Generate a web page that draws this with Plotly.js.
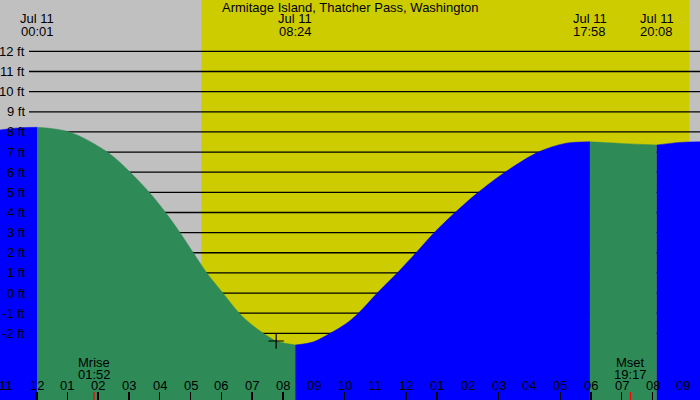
<!DOCTYPE html>
<html>
<head>
<meta charset="utf-8">
<script src="https://cdn.plot.ly/plotly-3.0.1.min.js"></script>
<style>html,body{margin:0;padding:0;background:#c0c0c0;}#chart{width:700px;height:400px;}</style>
</head>
<body>
<div id="chart"></div>
<script>
// ---- data (hours after midnight Jul 11, feet) ----
const chartTitle = "Armitage Island, Thatcher Pass, Washington";
const tideHours = [-1.185, -0.6, 1.065, 2.30, 3.04, 3.66, 4.19, 4.66, 5.09, 5.53, 6.05, 6.58, 6.93, 7.36, 7.78, 8.0, 9.0, 9.53, 10.02, 10.45, 11.06, 11.71, 12.32, 12.91, 13.59, 14.34, 15.21, 16.29, 17.16, 18.95, 20.9, 21.54];
const tideFeet  = [8.10, 8.20, 8.00, 7.00, 6.00, 5.00, 4.00, 3.00, 2.00, 1.00, 0.00, -1.00, -1.50, -2.00, -2.38, -2.47, -2.42, -2.00, -1.55, -1.00, 0.00, 1.00, 2.00, 3.00, 4.00, 5.00, 6.00, 7.00, 7.43, 7.43, 7.48, 7.51];
const extremeHours = [0.017, 8.4, 17.967, 20.133];
const extremeFeet  = [8.23, -2.58, 7.51, 7.35];
const extremeDates = ["Jul 11", "Jul 11", "Jul 11", "Jul 11"];
const extremeTimes = ["00:01", "08:24", "17:58", "20:08"];
const sunriseHour = 5.35, sunsetHour = 21.19;
const moonHours = [1.867, 19.283];
const moonNames = ["Mrise", "Mset"];
const moonTimes = ["01:52", "19:17"];
const hourTicks = [-1,0,1,2,3,4,5,6,7,8,9,10,11,12,13,14,15,16,17,18,19,20,21];
const hourLabels = ["11","12","01","02","03","04","05","06","07","08","09","10","11","12","01","02","03","04","05","06","07","08","09"];
const gridFeet = [-2,-1,0,1,2,3,4,5,6,7,8,9,10,11,12];
const markerHour = [7.78], markerFeet = [-2.38];

// ---- build ----
const X0 = -1.185, X1 = 21.54, Y0 = -5.31, Y1 = 14.55;
const W = 700, H = 400;
const py = p => 1 - p / H; // pixel row -> paper y

let pts = tideHours.map((h,i)=>({h, v: tideFeet[i]}));
extremeHours.forEach((h,i)=>pts.push({h, v: extremeFeet[i], ext:true}));
pts.sort((a,b)=>a.h-b.h);
const segs = []; let cur = [];
pts.forEach(p=>{ cur.push(p); if(p.ext){ segs.push(cur); cur=[p]; } });
segs.push(cur);

const traces = [];
segs.forEach(seg=>{
  const xs = seg.map(p=>p.h), ys = seg.map(p=>p.v);
  const rising = ys[ys.length-1] > ys[0];
  const col = rising ? "#0000ff" : "#2e8b57";
  traces.push({x: xs, y: xs.map(()=>Y0), mode:"lines", line:{width:0,color:col}, hoverinfo:"skip", showlegend:false});
  traces.push({x: xs, y: ys, mode:"lines", line:{width:0.5,color:col,shape:"spline",smoothing:0.9}, fill:"tonexty", fillcolor:col, hoverinfo:"skip", showlegend:false});
});
traces.push({x: markerHour, y: markerFeet, mode:"markers", marker:{symbol:"cross-thin", size:11, line:{width:1.2,color:"#000"}}, showlegend:false});

const shapes = [];
shapes.push({type:"rect", layer:"below", xref:"x", yref:"paper", x0:sunriseHour, x1:sunsetHour, y0:0, y1:1, fillcolor:"#cccc00", line:{width:0}});
gridFeet.forEach(v=>shapes.push({type:"line", layer:"below", xref:"paper", yref:"y", x0:29/W, x1:1, y0:v, y1:v, line:{color:"#000", width:1.3}}));
shapes.push({type:"line", xref:"x", yref:"paper", x0:0, x1:0, y0:0, y1:py(392), line:{color:"#000", width:3}});
moonHours.forEach(h=>shapes.push({type:"line", xref:"x", yref:"paper", x0:h, x1:h, y0:0, y1:py(392), line:{color:"#ff0000", width:1.3}}));

const F = {family:"Liberation Sans, Arial, sans-serif", size:13, color:"#000"};
const ann = [];
gridFeet.forEach(v=>ann.push({xref:"paper", yref:"y", x:27/W, y:v, xanchor:"right", yanchor:"middle", text:v+" ft", showarrow:false, font:F}));
extremeHours.forEach((h,i)=>{
  ann.push({xref:"x", yref:"paper", x:h, y:py(19), xanchor:"center", yanchor:"middle", text:extremeDates[i], showarrow:false, font:F});
  ann.push({xref:"x", yref:"paper", x:h, y:py(32), xanchor:"center", yanchor:"middle", text:extremeTimes[i], showarrow:false, font:F});
});
moonHours.forEach((h,i)=>{
  ann.push({xref:"x", yref:"paper", x:h, y:py(362), xanchor:"center", yanchor:"middle", text:moonNames[i], showarrow:false, font:F});
  ann.push({xref:"x", yref:"paper", x:h, y:py(374), xanchor:"center", yanchor:"middle", text:moonTimes[i], showarrow:false, font:F});
});
hourTicks.forEach((h,i)=>ann.push({xref:"x", yref:"paper", x:h, y:py(385.5), xanchor:"center", yanchor:"middle", text:hourLabels[i], showarrow:false, font:F}));
ann.push({xref:"paper", yref:"paper", x:0.5, y:py(7.5), xanchor:"center", yanchor:"middle", text:chartTitle, showarrow:false, font:F});

const layout = {
  width: W, height: H,
  margin:{l:0,r:0,t:0,b:0,pad:0},
  paper_bgcolor:"#c0c0c0", plot_bgcolor:"#c0c0c0",
  xaxis:{range:[X0,X1], showgrid:false, zeroline:false, showline:false, tickvals:hourTicks, ticktext:hourTicks.map(()=>""), ticks:"inside", ticklen:8, tickwidth:1.3, tickcolor:"#000", fixedrange:true},
  yaxis:{range:[Y0,Y1], showgrid:false, zeroline:false, showline:false, showticklabels:false, ticks:"", fixedrange:true},
  shapes, annotations: ann, showlegend:false
};
Plotly.newPlot("chart", traces, layout, {staticPlot:true, displayModeBar:false});
</script>
</body>
</html>
